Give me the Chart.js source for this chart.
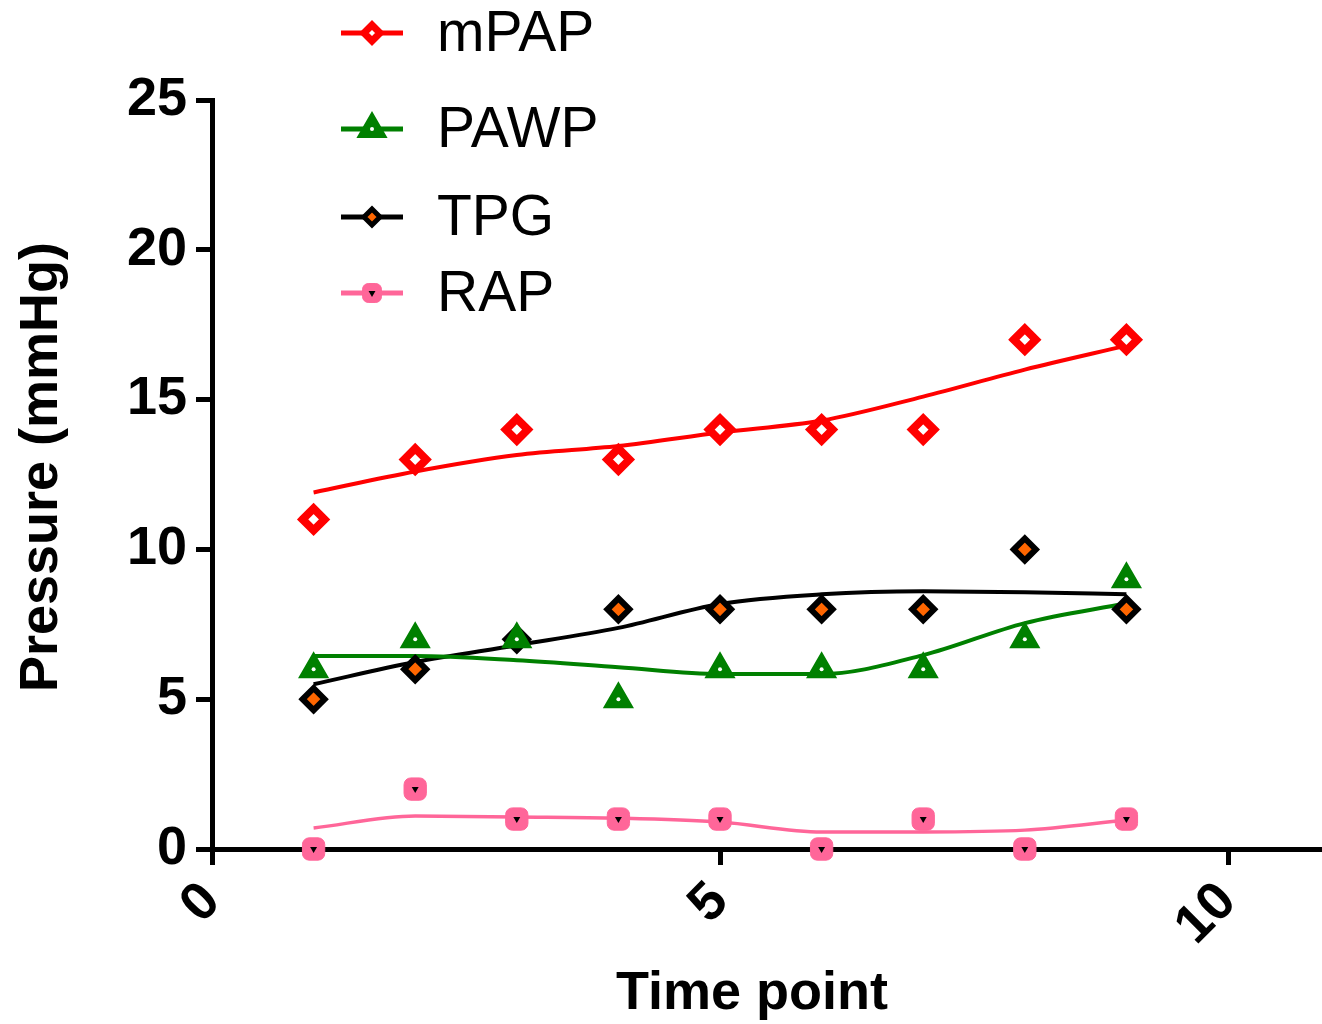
<!DOCTYPE html>
<html>
<head>
<meta charset="utf-8">
<script src="https://cdn.jsdelivr.net/npm/chart.js@4/dist/chart.umd.min.js"></script>
<style>
html,body{margin:0;padding:0;background:#fff;}
#wrap{width:1322px;height:1024px;}
</style>
</head>
<body>
<div id="wrap"><canvas id="c" width="1322" height="1024"></canvas></div>
<script>
// ---- data ----
const timePoints = [1, 2, 3, 4, 5, 6, 7, 8, 9];
const mPAP = [11, 13, 14, 13, 14, 14, 14, 17, 17];
const PAWP = [6, 7, 7, 5, 6, 6, 6, 7, 9];
const TPG  = [5, 6, 7, 8, 8, 8, 8, 10, 8];
const RAP  = [0, 2, 1, 1, 1, 0, 1, 0, 1];
// smoothed trend curves
const mPAPFit = [11.9, 12.6, 13.15, 13.45, 13.9, 14.3, 15.1, 16.0, 16.8];
const PAWPFit = [6.44, 6.44, 6.3, 6.07, 5.84, 5.84, 6.47, 7.54, 8.2];
const TPGFit  = [5.5, 6.24, 6.8, 7.38, 8.18, 8.5, 8.6, 8.57, 8.5];
const RAPFit  = [0.7, 1.1, 1.07, 1.03, 0.9, 0.57, 0.57, 0.63, 0.97];
const xTicks = [0, 5, 10];
const yTicks = [0, 5, 10, 15, 20, 25];
const seriesNames = ['mPAP', 'PAWP', 'TPG', 'RAP'];

const toXY = (ys) => timePoints.map((x, i) => ({x: x, y: ys[i]}));

const styles = {
  mPAP: {line: '#ff0000', border: '#ff0000', fill: '#ffffff', shape: 'rectRot', r: 11, bw: 8, lr: 8, lbw: 7, lw: 4},
  PAWP: {line: '#008000', border: '#008000', fill: '#008000', shape: 'triangle', r: 16, bw: 2, lr: 16, lbw: 2, lw: 4},
  TPG:  {line: '#000000', border: '#000000', fill: '#ff6600', shape: 'rectRot', r: 11, bw: 6, lr: 8, lbw: 5, lw: 4},
  RAP:  {line: '#ff6699', border: '#ff6699', fill: '#ff6699', shape: 'rectRounded', r: 13, bw: 1, lr: 11, lbw: 1, lw: 3.5}
};
const inner = {
  PAWP: {shape: 'circle', r: 2, color: '#ffffff', rot: 0},
  RAP:  {shape: 'triangle', r: 4, color: '#000000', rot: 180}
};
const seriesData = {mPAP: mPAP, PAWP: PAWP, TPG: TPG, RAP: RAP};
const fitData = {mPAP: mPAPFit, PAWP: PAWPFit, TPG: TPGFit, RAP: RAPFit};

const datasets = [];
seriesNames.forEach(n => {
  const s = styles[n];
  datasets.push({
    label: n + ' fit', type: 'line', data: toXY(fitData[n]),
    borderColor: s.line, borderWidth: s.lw, pointRadius: 0,
    tension: 0.35, cubicInterpolationMode: 'monotone', fill: false, order: 3
  });
});
seriesNames.forEach(n => {
  const s = styles[n];
  datasets.push({
    label: n, type: 'scatter', data: toXY(seriesData[n]),
    showLine: false, pointStyle: s.shape, pointRadius: s.r,
    pointBackgroundColor: s.fill, pointBorderColor: s.border, pointBorderWidth: s.bw,
    clip: false, order: 2
  });
  if (inner[n]) {
    const d = inner[n];
    datasets.push({
      label: n + ' centre', type: 'scatter', data: toXY(seriesData[n]),
      showLine: false, pointStyle: d.shape, pointRadius: d.r, pointRotation: d.rot,
      pointBackgroundColor: d.color, pointBorderColor: d.color, pointBorderWidth: 0,
      clip: false, order: 1
    });
  }
});

const FONT = "'Liberation Sans', Arial, sans-serif";
const legendRows = [33, 129, 217, 293];

const legendPlugin = {
  id: 'customLegend',
  afterDraw(chart) {
    const ctx = chart.ctx;
    ctx.save();
    seriesNames.forEach((n, i) => {
      const s = styles[n];
      const y = legendRows[i];
      ctx.strokeStyle = s.line;
      ctx.lineWidth = 5;
      ctx.beginPath();
      ctx.moveTo(341, y); ctx.lineTo(403, y); ctx.stroke();
      ctx.fillStyle = s.fill;
      ctx.strokeStyle = s.border;
      ctx.lineWidth = s.lbw;
      Chart.helpers.drawPoint(ctx, {pointStyle: s.shape, radius: s.lr, borderWidth: s.lbw, rotation: 0}, 372, y);
      if (inner[n]) {
        const d = inner[n];
        ctx.fillStyle = d.color; ctx.strokeStyle = d.color; ctx.lineWidth = 0;
        Chart.helpers.drawPoint(ctx, {pointStyle: d.shape, radius: d.r, borderWidth: 0, rotation: d.rot}, 372, y);
      }
      ctx.fillStyle = '#000';
      ctx.font = '57px ' + FONT;
      ctx.textBaseline = 'middle';
      ctx.textAlign = 'left';
      ctx.fillText(n, 437, y + 2);
    });
    ctx.restore();
  }
};

new Chart(document.getElementById('c'), {
  type: 'scatter',
  data: {datasets: datasets},
  plugins: [legendPlugin],
  options: {
    responsive: false,
    animation: false,
    layout: {autoPadding: false, padding: {top: 100, right: 0, left: 0, bottom: 0}},
    plugins: {legend: {display: false}, tooltip: {enabled: false}},
    scales: {
      x: {
        type: 'linear', min: 0, max: 10.925,
        afterBuildTicks: (axis) => { axis.ticks = xTicks.map(v => ({value: v})); },
        afterFit: (axis) => { axis.height = 175; axis.paddingRight = 0; axis.paddingLeft = 0; },
        grid: {drawOnChartArea: false, drawTicks: true, tickLength: 16, tickWidth: 5, color: '#000'},
        border: {display: true, color: '#000', width: 5},
        ticks: {color: '#000', font: {family: FONT, size: 54, weight: 'bold'}, minRotation: 45, maxRotation: 45, padding: 5},
        title: {display: true, text: 'Time point  ', color: '#000', font: {family: FONT, size: 54, weight: 'bold'}, padding: {top: 0, bottom: -3}}
      },
      y: {
        type: 'linear', min: 0, max: 25,
        afterBuildTicks: (axis) => { axis.ticks = yTicks.map(v => ({value: v})); },
        afterFit: (axis) => { axis.width = 212; },
        grid: {drawOnChartArea: false, drawTicks: true, tickLength: 16, tickWidth: 5, color: '#000'},
        border: {display: true, color: '#000', width: 5},
        ticks: {color: '#000', font: {family: FONT, size: 54, weight: 'bold'}, padding: 9},
        title: {display: true, text: ' Pressure (mmHg)', color: '#000', font: {family: FONT, size: 54, weight: 'bold'}, padding: {top: 10, bottom: 0}}
      }
    }
  }
});
</script>
</body>
</html>
